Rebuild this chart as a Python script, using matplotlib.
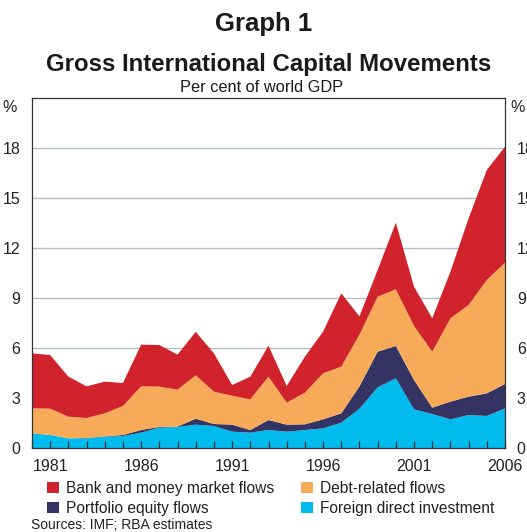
import matplotlib.pyplot as plt
import numpy as np

plt.rcParams['font.family'] = ['Liberation Sans', 'DejaVu Sans']

years = list(range(1980, 2007))

fdi = [0.88, 0.78, 0.58, 0.58, 0.68, 0.72, 0.92, 1.22, 1.26, 1.40, 1.32, 0.98, 0.92, 1.08,
       0.98, 1.08, 1.18, 1.52, 2.35, 3.64, 4.18, 2.32, 2.04, 1.72, 1.98, 1.92, 2.38]
portfolio = [0.00, 0.00, 0.00, 0.02, 0.02, 0.06, 0.16, 0.04, 0.02, 0.36, 0.12, 0.42, 0.16, 0.60,
             0.42, 0.34, 0.54, 0.56, 1.35, 2.14, 1.94, 1.76, 0.38, 1.06, 1.10, 1.36, 1.46]
debt = [1.50, 1.58, 1.30, 1.20, 1.38, 1.74, 2.62, 2.42, 2.22, 2.60, 1.94, 1.74, 1.84, 2.60,
        1.32, 1.90, 2.76, 2.80, 3.10, 3.30, 3.40, 3.24, 3.36, 5.00, 5.50, 6.80, 7.28]
bank = [3.30, 3.22, 2.40, 1.90, 1.90, 1.38, 2.50, 2.50, 2.10, 2.61, 2.30, 0.64, 1.36, 1.86,
        1.00, 2.16, 2.50, 4.40, 1.10, 1.60, 4.00, 2.36, 2.00, 2.80, 5.20, 6.60, 6.96]

names = ['Foreign direct investment', 'Portfolio equity flows',
         'Debt-related flows', 'Bank and money market flows']
colors = ['#00bbee', '#343464', '#f7aa58', '#d1232b']

y_ticks = [0, 3, 6, 9, 12, 15, 18]
x_labels = [1981, 1986, 1991, 1996, 2001, 2006]

fig = plt.figure(figsize=(5.27, 5.32), dpi=100)
ax = fig.add_axes([32 / 527, 1 - 448 / 532, 473 / 527, 350 / 532])

ax.hlines(y_ticks[1:], 1980, 2006, colors='#b4bccb', linewidth=1.0, zorder=0.5)
polys = ax.stackplot(years, fdi, portfolio, debt, bank, colors=colors,
                     labels=names, linewidth=0, zorder=1)

ax.set_xlim(1980, 2006)
ax.set_ylim(0, 21)
ax.set_yticks(y_ticks)
ax.set_xticks(x_labels)
ax.set_xticks(years, minor=True)
ax.tick_params(axis='y', left=False, right=False, labelleft=True, labelright=True,
               labelsize=11.5, pad=5, colors='#222222')
ax.tick_params(axis='x', which='both', direction='in', length=5, width=0.9,
               color='#333333', labelsize=11.5, pad=8, labelcolor='#222222')
for s in ax.spines.values():
    s.set_linewidth(0.9)
    s.set_color('#333333')

ax.text(-0.032, 20.45, '%', transform=ax.get_yaxis_transform(), ha='right', va='center',
        fontsize=11.5, color='#222222')
ax.text(1.012, 20.45, '%', transform=ax.get_yaxis_transform(), ha='left', va='center',
        fontsize=11.5, color='#222222')

fig.text(0.5, 1 - 31 / 532, 'Graph 1', ha='center', va='baseline', fontsize=18.5,
         fontweight='bold', color='#1a1a1a')
fig.text(0.51, 1 - 71 / 532, 'Gross International Capital Movements', ha='center',
         va='baseline', fontsize=17.3, fontweight='bold', color='#1a1a1a')
fig.text(0.497, 1 - 92 / 532, 'Per cent of world GDP', ha='center', va='baseline',
         fontsize=11.8, color='#1a1a1a')

handles = [polys[3], polys[1], polys[2], polys[0]]
labels = [names[3], names[1], names[2], names[0]]
fig.legend(handles, labels, ncol=2, loc='upper left', bbox_to_anchor=(47 / 527, 1 - 481 / 532),
           frameon=False, fontsize=11.2, handlelength=0.75, handleheight=0.75,
           handletextpad=0.45, columnspacing=1.75, labelspacing=0.3, borderpad=0,
           borderaxespad=0, labelcolor='#222222')

fig.text(31 / 527, 1 - 525 / 532, 'Sources: IMF; RBA estimates', ha='left', va='center',
         fontsize=10, color='#222222')

fig.savefig('out.png', dpi=100)
